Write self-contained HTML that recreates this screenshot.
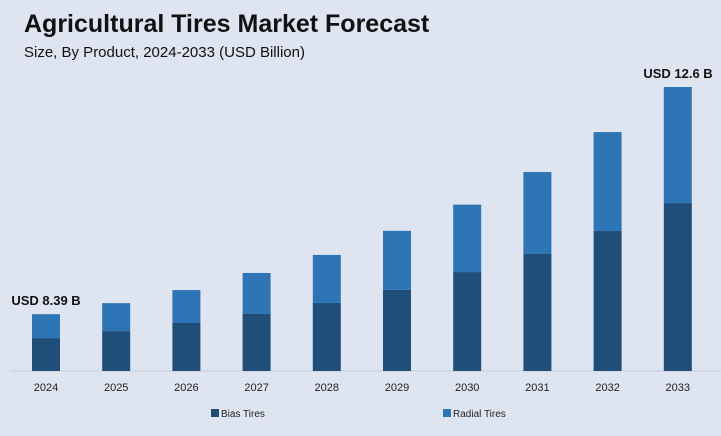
<!DOCTYPE html>
<html><head><meta charset="utf-8"><style>
body{margin:0;width:721px;height:431px;background:#dee5f1;font-family:"Liberation Sans",sans-serif;overflow:hidden}
</style></head><body>
<svg width="721" height="431">
<text x="24" y="32" font-size="25" font-weight="bold" fill="#111">Agricultural Tires Market Forecast</text>
<text x="24" y="57" font-size="15" fill="#111">Size, By Product, 2024-2033 (USD Billion)</text>
<line x1="10" y1="371" x2="721" y2="371" stroke="#c5cede" stroke-width="1"/>
<g id="bars"></g>
<text x="46" y="305" font-size="13" font-weight="bold" fill="#111" text-anchor="middle">USD 8.39 B</text>
<text x="678" y="78" font-size="13" font-weight="bold" fill="#111" text-anchor="middle">USD 12.6 B</text>
<g>
<rect x="211" y="409" width="8" height="8" fill="#1f4e79"/>
<text x="221" y="417" font-size="10" fill="#222">Bias Tires</text>
<rect x="443" y="409" width="8" height="8" fill="#2e75b6"/>
<text x="453" y="417" font-size="10" fill="#222">Radial Tires</text>
</g>
</svg>
<script>
const years = ["2024","2025","2026","2027","2028","2029","2030","2031","2032","2033"];
const bias = [1.46,1.77,2.13,2.53,3.02,3.6,4.39,5.19,6.21,7.45];
const radial = [1.06,1.24,1.46,1.82,2.13,2.62,2.99,3.64,4.39,5.15];
const base=371, scale=22.54, x0=46, step=70.2, bw=28;
const y=v=>v*scale;
const g=document.getElementById('bars');
const ns="http://www.w3.org/2000/svg";
years.forEach((yr,i)=>{
  const cx=x0+i*step;
  const hb=y(bias[i]), hr=y(radial[i]);
  const r1=document.createElementNS(ns,'rect');
  r1.setAttribute('x',cx-bw/2);r1.setAttribute('y',base-hb);r1.setAttribute('width',bw);r1.setAttribute('height',hb);r1.setAttribute('fill','#1f4e79');
  
  
  g.appendChild(r1);
  const r2=document.createElementNS(ns,'rect');
  r2.setAttribute('x',cx-bw/2);r2.setAttribute('y',base-hb-hr);r2.setAttribute('width',bw);r2.setAttribute('height',hr);r2.setAttribute('fill','#2e75b6');
  
  
  g.appendChild(r2);
  const t=document.createElementNS(ns,'text');
  t.setAttribute('x',cx);t.setAttribute('y',391);t.setAttribute('font-size','11');t.setAttribute('text-anchor','middle');t.setAttribute('fill','#222');
  t.textContent=yr;
  
  
  g.appendChild(t);
});
</script>
</body></html>
